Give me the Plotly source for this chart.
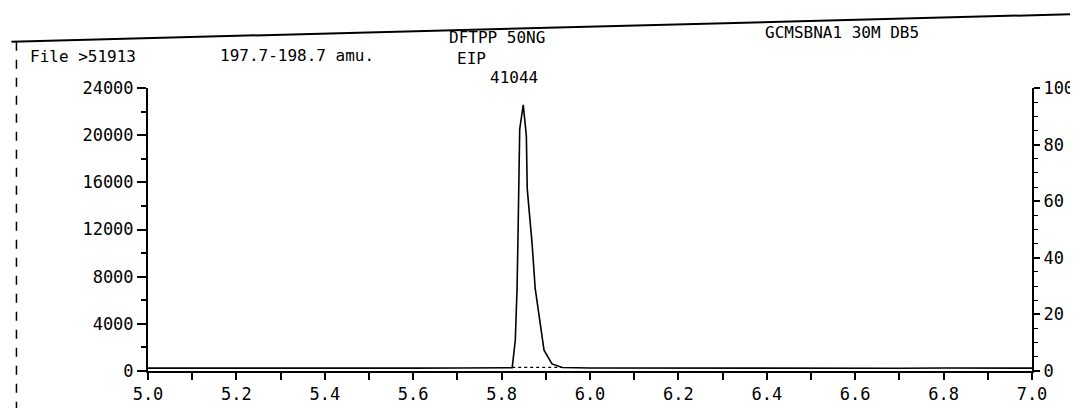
import plotly.graph_objects as go

# ---- data ----
ret_time = [5.00, 5.10, 5.20, 5.30, 5.40, 5.50, 5.60, 5.70, 5.80, 5.824,
            5.831, 5.835, 5.837, 5.839, 5.841, 5.849, 5.856, 5.858, 5.869,
            5.876, 5.887, 5.896, 5.914, 5.937, 6.00, 6.10, 6.20, 6.30, 6.40,
            6.50, 6.60, 6.70, 6.80, 6.90, 7.00]
abundance = [240, 230, 250, 240, 230, 250, 240, 250, 260, 280,
             2610, 7010, 11100, 16830, 20520, 22570, 19950, 15440, 10780,
             7010, 4230, 1770, 600, 300, 260, 250, 240, 250, 240,
             250, 240, 230, 250, 240, 240]
base_time = [5.824, 5.935]
base_level = [300, 300]

x_ticks = [5.0, 5.2, 5.4, 5.6, 5.8, 6.0, 6.2, 6.4, 6.6, 6.8, 7.0]
x_labels = ["5.0", "5.2", "5.4", "5.6", "5.8", "6.0", "6.2", "6.4", "6.6", "6.8", "7.0"]
y_ticks = [0, 4000, 8000, 12000, 16000, 20000, 24000]
pct_ticks = [0, 20, 40, 60, 80, 100]

header_left = "File >51913"
header_mass = "197.7-198.7 amu."
header_sample = "DFTPP 50NG"
header_mode = "EIP"
peak_label = "41044"
header_method = "GCMSBNA1 30M DB5"

# ---- layout geometry ----
W, H = 1078, 408
L, R, T, B = 140, 51, 80, 41
PW, PH = W - L - R, H - T - B
FONT = "DejaVu Sans Mono"


def px(x):
    return (x - L) / PW


def py(y):
    return (H - B - y) / PH


fig = go.Figure()
fig.add_trace(go.Scatter(x=ret_time, y=abundance, mode="lines",
                         line=dict(color="black", width=1.6), showlegend=False))
fig.add_trace(go.Scatter(x=base_time, y=base_level, mode="lines",
                         line=dict(color="black", width=1.2, dash="dot"),
                         showlegend=False))
# invisible trace to activate the right-hand percentage axis
fig.add_trace(go.Scatter(x=[ret_time[0]], y=[0], yaxis="y2", mode="markers",
                         marker=dict(opacity=0), showlegend=False,
                         hoverinfo="skip"))

tickfont = dict(family=FONT, size=17, color="black")
fig.update_layout(
    width=W, height=H,
    margin=dict(l=L, r=R, t=T, b=B),
    paper_bgcolor="white", plot_bgcolor="white",
    xaxis=dict(range=[5.0, 7.0], tickvals=x_ticks, ticktext=x_labels,
               showline=True, linecolor="black", linewidth=2,
               ticks="outside", ticklen=7, tickwidth=1.5, tickcolor="black",
               minor=dict(dtick=0.1, ticks="outside", ticklen=7,
                          tickwidth=1.5, tickcolor="black"),
               showgrid=False, zeroline=False, tickfont=tickfont),
    yaxis=dict(range=[0, 24000], tickvals=y_ticks, tickformat="d",
               showline=True, linecolor="black", linewidth=2,
               ticks="outside", ticklen=9, tickwidth=1.5, tickcolor="black",
               minor=dict(dtick=2000, ticks="outside", ticklen=5,
                          tickwidth=1.5, tickcolor="black"),
               showgrid=False, zeroline=False, tickfont=tickfont),
    yaxis2=dict(range=[0, 100], tickvals=pct_ticks, overlaying="y",
                side="right", showline=True, linecolor="black", linewidth=2,
                ticks="outside", ticklen=6, tickwidth=1.5, tickcolor="black",
                minor=dict(dtick=5, ticks="outside", ticklen=4,
                           tickwidth=1.2, tickcolor="black"),
                showgrid=False, zeroline=False, tickfont=tickfont),
)

annfont = dict(family=FONT, size=16, color="black")
for text, x, y in [(header_left, 20, 48), (header_mass, 210, 47),
                   (header_sample, 440, 29), (header_mode, 448, 50),
                   (peak_label, 481, 69), (header_method, 757, 24)]:
    fig.add_annotation(text=text, xref="paper", yref="paper", x=px(x), y=py(y),
                       xanchor="left", yanchor="middle", showarrow=False,
                       font=annfont)

# scanned page frame
fig.add_shape(type="line", xref="paper", yref="paper",
              x0=px(3), y0=py(33), x1=px(1073), y1=py(5),
              line=dict(color="black", width=2))
fig.add_shape(type="line", xref="paper", yref="paper",
              x0=px(8), y0=py(33), x1=px(8), y1=py(408),
              line=dict(color="black", width=1.5, dash="dash"))
fig.add_shape(type="line", xref="paper", yref="paper",
              x0=px(1073), y0=py(5), x1=px(1073), y1=py(62),
              line=dict(color="black", width=1.5))

fig.write_html("out.html")
